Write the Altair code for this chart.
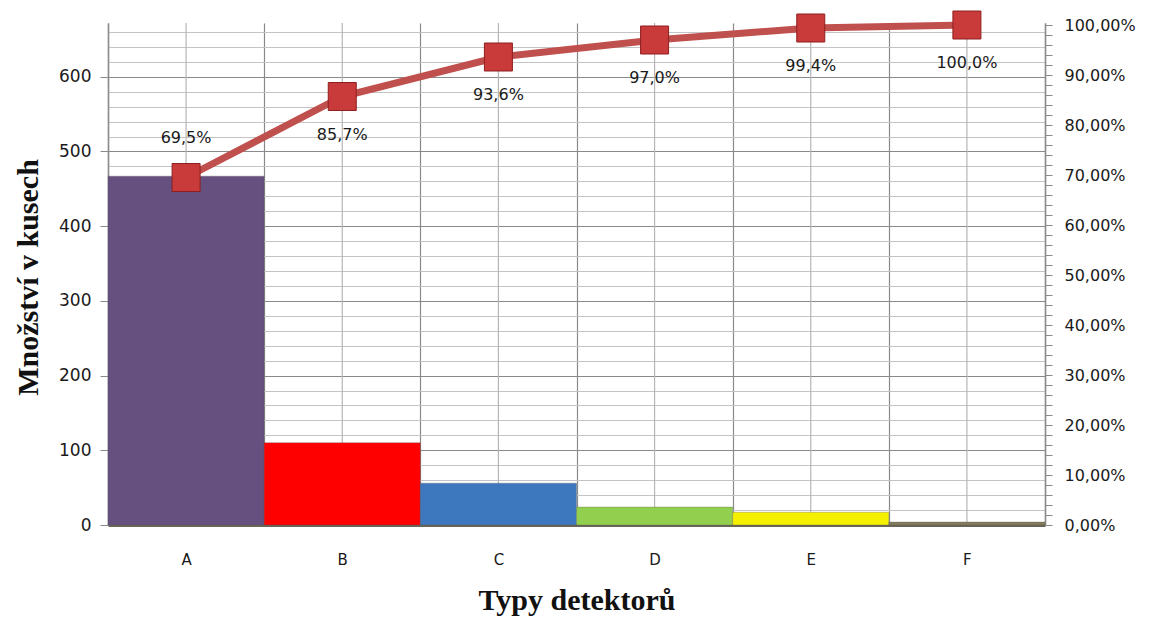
import altair as alt
import pandas as pd

categories = ["A", "B", "C", "D", "E", "F"]
counts = [467, 110, 56, 24, 17, 4]
cum_pct = [69.5, 85.7, 93.6, 97.0, 99.4, 100.0]
bar_colors = ["#66507F", "#FF0000", "#3D78BF", "#92CF4F", "#F4F000", "#857C5C"]

left_ticks = list(range(0, 661, 20))
right_ticks = list(range(0, 101, 2))

df = pd.DataFrame({"cat": categories, "count": counts, "pct": cum_pct})

W, H = 937, 502
FONT = "DejaVu Sans"
TXT = "#1a1a1a"

X = alt.X(
    "cat:N",
    sort=categories,
    scale=alt.Scale(paddingInner=0, paddingOuter=0),
    axis=alt.Axis(
        title="Typy detektorů",
        labelAngle=0,
        ticks=False,
        tickBand="extent",
        grid=True,
        gridColor="#8a8a8a",
        gridWidth=1.2,
        domainColor="#6b6658",
        domainWidth=3,
        labelFont=FONT,
        labelFontSize=15,
        labelColor=TXT,
        labelPadding=27,
        titleFont="Liberation Serif",
        titleFontSize=30,
        titleFontWeight="bold",
        titleColor="#111111",
        titleX=W / 2,
        titleY=84,
        titleAlign="center",
        titleBaseline="alphabetic",
    ),
)

base = alt.Chart(df)

center_grid = base.mark_rule(color="#b5b5b5", strokeWidth=1.2).encode(
    x=X, y=alt.value(0), y2=alt.value(H)
)

bars = base.mark_bar(stroke="#555555", strokeWidth=0.6, strokeOpacity=0.5).encode(
    x=X,
    y=alt.Y(
        "count:Q",
        scale=alt.Scale(domain=[0, 672], nice=False, zero=True),
        axis=alt.Axis(
            orient="left",
            values=left_ticks,
            labelExpr="datum.value % 100 === 0 ? datum.label : ''",
            tickOpacity={"condition": {"test": "datum.value % 100 === 0", "value": 1}, "value": 0},
            tickSize=8,
            tickColor="#8a8a8a",
            grid=True,
            gridColor={"condition": {"test": "datum.value % 100 === 0", "value": "#8a8a8a"}, "value": "#c4c4c4"},
            gridWidth=1.2,
            domainColor="#8a8a8a",
            domainWidth=1.5,
            labelFont=FONT,
            labelFontSize=17,
            labelColor=TXT,
            labelPadding=9,
            labelOverlap=False,
            labelFlush=False,
            title="Množství  v kusech",
            titleFont="Liberation Serif",
            titleFontSize=30,
            titleFontWeight="bold",
            titleColor="#111111",
            titleAngle=270,
            titleX=-80,
            titleY=254,
            titleAlign="center",
            titleBaseline="middle",
        ),
    ),
    color=alt.Color("cat:N", scale=alt.Scale(domain=categories, range=bar_colors), legend=None),
)

Y2 = alt.Y(
    "pct:Q",
    scale=alt.Scale(domain=[0, 100.4], nice=False, zero=True),
    axis=alt.Axis(
        orient="right",
        values=right_ticks,
        labelExpr="datum.value % 10 === 0 ? replace(format(datum.value, '.2f'), '.', ',') + '%' : ''",
        tickSize=7,
        tickColor="#8a8a8a",
        domainColor="#8a8a8a",
        domainWidth=1.5,
        grid=False,
        labelFont=FONT,
        labelFontSize=16,
        labelColor=TXT,
        labelPadding=12,
        labelOverlap=False,
        labelFlush=False,
        title=None,
    ),
)

line = base.mark_line(color="#C0504D", strokeWidth=7).encode(x=X, y=Y2)
points = base.mark_point(
    shape="square", filled=True, size=784, fill="#C93A3A", stroke="#8E1F1F", strokeWidth=1, opacity=1
).encode(x=X, y=Y2)

label_expr = "replace(format(datum.pct, '.1f'), '.', ',') + '%'"
labels_above = base.transform_filter("datum.cat === 'A'").transform_calculate(
    lab=label_expr
).mark_text(font=FONT, fontSize=16, color=TXT, dy=-40).encode(
    x=X, y=Y2, text="lab:N"
)
labels_below = base.transform_filter("datum.cat !== 'A'").transform_calculate(
    lab=label_expr
).mark_text(font=FONT, fontSize=16, color=TXT, dy=38).encode(
    x=X, y=Y2, text="lab:N"
)

right_group = alt.layer(line, points, labels_above, labels_below)

chart = (
    alt.layer(center_grid, bars, right_group)
    .resolve_scale(y="independent")
    .properties(
        width=W,
        height=H,
        autosize=alt.AutoSizeParams(type="none"),
        padding={"left": 100, "top": 15, "right": 96, "bottom": 91},
        background="white",
    )
    .configure_view(stroke=None)
)

chart.save("out.html", embed_options={"renderer": "svg", "actions": False})
